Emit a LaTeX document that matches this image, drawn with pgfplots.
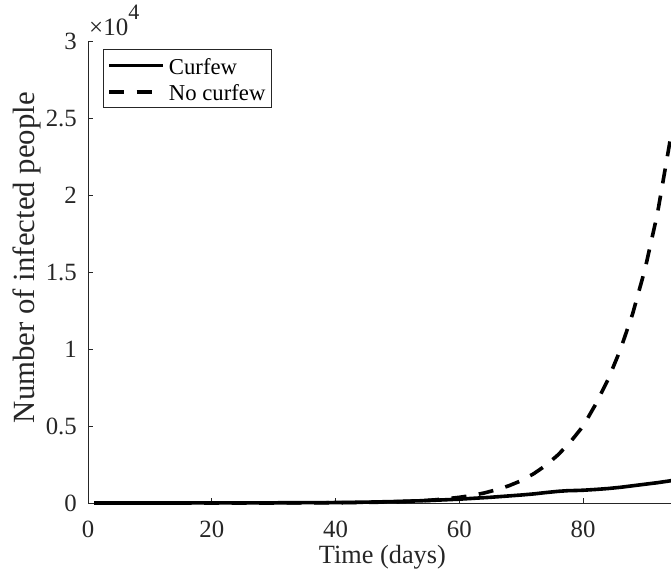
\documentclass[border=0pt]{standalone}
\usepackage{pgfplots}
\pgfplotsset{compat=1.18}
\usepackage{fontspec}
\setmainfont{Liberation Serif}
\usetikzlibrary{calc}
\definecolor{axgray}{rgb}{0.15,0.15,0.15}

\begin{document}
\begin{tikzpicture}
\begin{axis}[
  name=ax,
  width=583pt, height=461.4pt, scale only axis,
  xmin=0, xmax=94.2, ymin=0, ymax=30000,
  clip=false,
  axis x line*=bottom, axis y line*=left,
  axis line style={axgray, line width=0.8pt},
  tick style={axgray, line width=0.8pt},
  tick align=inside, major tick length=5pt,
  xtick={0,20,40,60,80},
  ytick={0,5000,10000,15000,20000,25000,30000},
  yticklabels={0,0.5,1,1.5,2,2.5,3},
  scaled y ticks=false,
  /pgf/number format/assume math mode=true,
  ticklabel style={font=\fontsize{24.8}{28}\selectfont, text=axgray},
  xticklabel style={inner sep=0pt, anchor=north, yshift=-17.7pt},
  yticklabel style={inner sep=0pt, anchor=east, xshift=-11pt},
  xlabel={Time (days)},
  xlabel style={at={(rel axis cs:0.505,0)}, anchor=base, inner sep=0pt, yshift=-60.3pt, font=\fontsize{26.3}{30}\selectfont, text=axgray},
  ylabel={Number of infected people},
  ylabel style={at={($(rel axis cs:0,0.532)+(-53pt,0pt)$)}, anchor=base, inner sep=0pt, font=\fontsize{30.8}{34}\selectfont, text=axgray},
  legend cell align=left,
  legend image code/.code={\draw[#1] (0pt,0pt) -- (54pt,0pt);},
  legend style={at={(rel axis cs:0.0252,0.9833)}, anchor=north west, draw=axgray, line width=0.8pt, fill=white,
    font=\fontsize{22.7}{26}\selectfont, inner xsep=4.3pt, inner ysep=3pt, row sep=0pt, column sep=3pt,
    nodes={inner xsep=1pt, inner ysep=1pt, text height=20.7pt, text depth=3.3pt}},
]
\addplot[black, line width=3.6pt, line join=round] coordinates {
(1,0) (10,2) (20,5) (30,12) (40,30) (45,55) (50,100) (55,160) (60,250) (65,370)
(70,520) (72,590) (74,680) (76,760) (77.5,800) (79,815) (80,830) (82,880) (84,940)
(86,1020) (88,1120) (90,1220) (92,1320) (94.2,1450)
};
\addlegendentry{\makebox[97pt][l]{Curfew}}
\addplot[black, line width=3.6pt, dash pattern=on 15pt off 12.5pt] coordinates {
(1,0) (20,1) (30,3) (40,15) (45,35) (50,80) (52,110) (54,150) (56,205) (58,280)
(60,370) (62,490) (64,650) (66,860) (68,1120) (70,1450) (72,1900) (74,2450)
(76,3150) (78,4000) (80,5000) (82,6400) (84,8000) (86,9950) (88,12300) (90,15200)
(92,18800) (94.2,23900)
};
\addlegendentry{\makebox[97pt][l]{No curfew}}
\node[anchor=base west, inner sep=0pt, text=axgray, font=\fontsize{25}{28}\selectfont] at (rel axis cs:0,1) [xshift=1pt, yshift=6pt] {×10\raisebox{16.5pt}{\fontsize{22}{22}\selectfont 4}};
\end{axis}
\pgfresetboundingbox
\path[use as bounding box] ($(ax.south west)+(-88pt,-70pt)$) rectangle ($(ax.north east)+(0pt,41.6pt)$);
\end{tikzpicture}
\end{document}
